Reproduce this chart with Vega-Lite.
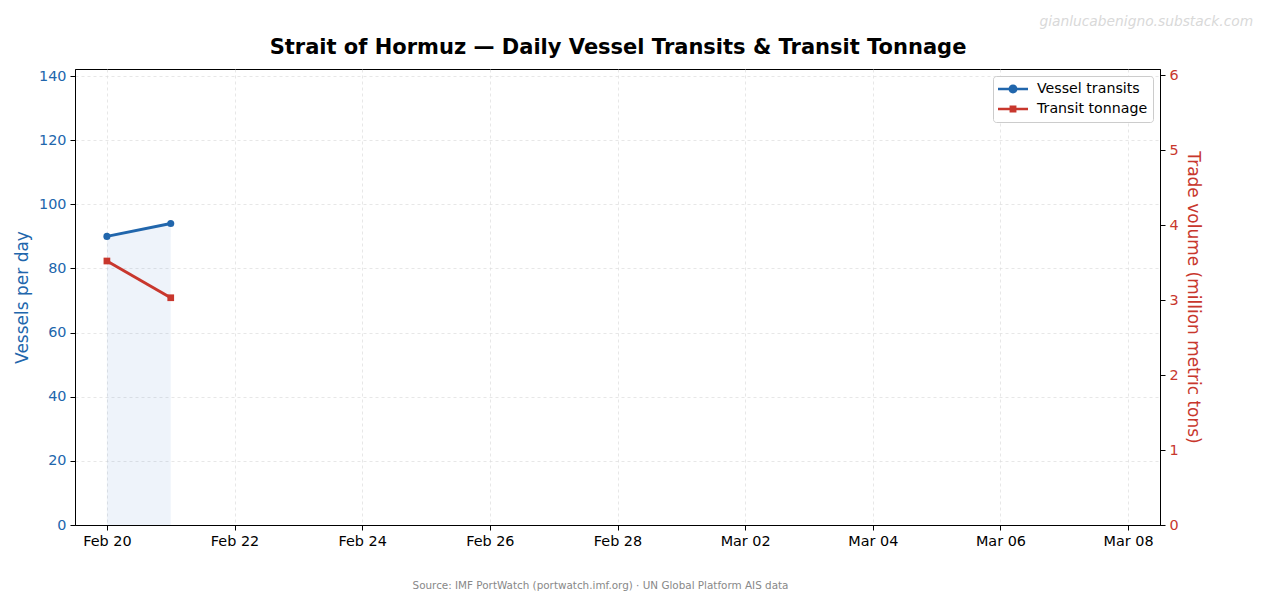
{
  "$schema": "https://vega.github.io/schema/vega-lite/v6.json",
  "width": 1085,
  "height": 456,
  "autosize": {"type": "none"},
  "padding": {"left": 75, "top": 69, "right": 112, "bottom": 81},
  "background": "white",
  "config": {
    "font": "DejaVu Sans",
    "view": {"stroke": "black", "strokeWidth": 1},
    "axis": {
      "labelFontSize": 14.4,
      "labelFont": "DejaVu Sans",
      "titleFont": "DejaVu Sans",
      "titleFontWeight": "normal",
      "tickColor": "black",
      "tickSize": 5,
      "labelPadding": 4,
      "domainColor": "black",
      "gridColor": "#dddddd",
      "gridDash": [3, 3],
      "gridWidth": 0.7
    }
  },
  "title": {
    "text": "gianlucabenigno.substack.com",
    "anchor": "end",
    "fontSize": 13.8,
    "fontStyle": "italic",
    "fontWeight": "normal",
    "color": "#d9d9d9",
    "offset": 7,
    "dx": 52
  },
  "data": {
    "values": [
      {"date": "2026-02-20", "transits": 90, "tonnage": 3.52},
      {"date": "2026-02-21", "transits": 94, "tonnage": 3.03}
    ]
  },
  "layer": [
    {
      "layer": [
        {
          "mark": {"type": "area", "color": "#3d78c4", "opacity": 0.09},
          "encoding": {
            "x": {
              "field": "date",
              "type": "temporal",
              "scale": {
                "type": "utc",
                "domain": [
                  {"year": 2026, "month": "feb", "date": 19, "hours": 12, "utc": true},
                  {"year": 2026, "month": "mar", "date": 8, "hours": 12, "utc": true}
                ]
              },
              "axis": {
                "orient": "bottom",
                "format": "%b %d",
                "labelColor": "black",
                "grid": true,
                "values": [
                  {"year": 2026, "month": "feb", "date": 20, "utc": true},
                  {"year": 2026, "month": "feb", "date": 22, "utc": true},
                  {"year": 2026, "month": "feb", "date": 24, "utc": true},
                  {"year": 2026, "month": "feb", "date": 26, "utc": true},
                  {"year": 2026, "month": "feb", "date": 28, "utc": true},
                  {"year": 2026, "month": "mar", "date": 2, "utc": true},
                  {"year": 2026, "month": "mar", "date": 4, "utc": true},
                  {"year": 2026, "month": "mar", "date": 6, "utc": true},
                  {"year": 2026, "month": "mar", "date": 8, "utc": true}
                ],
                "title": "Source: IMF PortWatch (portwatch.imf.org) · UN Global Platform AIS data",
                "titleFontSize": 10.4,
                "titleColor": "#888888",
                "titlePadding": 33,
                "titleX": 525,
                "titleAlign": "center"
              }
            },
            "y": {
              "field": "transits",
              "type": "quantitative",
              "scale": {"domain": [0, 142.2], "nice": false},
              "axis": {
                "orient": "left",
                "values": [0, 20, 40, 60, 80, 100, 120, 140],
                "grid": true,
                "labelColor": "#2166ac",
                "title": "Vessels per day",
                "titleColor": "#2166ac",
                "titleFontSize": 17,
                "titlePadding": 7
              }
            }
          }
        },
        {
          "mark": {"type": "line", "color": "#2166ac", "strokeWidth": 3, "point": {"shape": "circle", "size": 50, "filled": true, "color": "#2166ac", "opacity": 1}},
          "encoding": {
            "x": {
              "field": "date",
              "type": "temporal",
              "axis": {
                "orient": "top",
                "labels": false,
                "ticks": false,
                "domain": false,
                "grid": false,
                "title": "Strait of Hormuz — Daily Vessel Transits & Transit Tonnage",
                "titleFontSize": 21,
                "titleFontWeight": "bold",
                "titleColor": "black",
                "titlePadding": 12
              }
            },
            "y": {"field": "transits", "type": "quantitative"},
            "color": {
              "datum": "Vessel transits",
              "type": "nominal",
              "scale": {"domain": ["Vessel transits", "Transit tonnage"], "range": ["#2166ac", "#c8372d"]},
              "legend": {
                "title": null,
                "orient": "top-right",
                "offset": 7,
                "padding": 5,
                "fillColor": "white",
                "strokeColor": "#cccccc",
                "cornerRadius": 3,
                "labelFontSize": 14.2,
                "labelColor": "black",
                "symbolSize": 256,
                "rowPadding": 4,
                "labelOffset": 23,
                "encode": {
                  "symbols": {
                    "update": {
                      "shape": {"signal": "datum.value === 'Vessel transits' ? 'M-1,-0.17H2.75V0.17H-1Z M0.875,-0.56A0.56,0.56 0 1,1 0.875,0.56A0.56,0.56 0 1,1 0.875,-0.56Z' : 'M-1,-0.17H2.75V0.17H-1Z M0.445,-0.43H1.305V0.43H0.445Z'"},
                      "fill": {"signal": "datum.value === 'Vessel transits' ? '#2166ac' : '#c8372d'"},
                      "stroke": {"value": "transparent"},
                      "strokeWidth": {"value": 0},
                      "opacity": {"value": 1}
                    }
                  }
                }
              }
            }
          }
        }
      ]
    },
    {
      "mark": {"type": "line", "color": "#c8372d", "strokeWidth": 3, "point": {"shape": "square", "size": 45, "filled": true, "color": "#c8372d", "opacity": 1}},
      "encoding": {
        "x": {"field": "date", "type": "temporal", "axis": null},
        "y": {
          "field": "tonnage",
          "type": "quantitative",
          "scale": {"domain": [0, 6.08], "nice": false},
          "axis": {
            "orient": "right",
            "values": [0, 1, 2, 3, 4, 5, 6],
            "grid": false,
            "labelColor": "#c8372d",
            "title": "Trade volume (million metric tons)",
            "titleColor": "#c8372d",
            "titleFontSize": 17,
            "titlePadding": 5
          }
        },
        "color": {"datum": "Transit tonnage", "type": "nominal"}
      }
    }
  ],
  "resolve": {"scale": {"y": "independent"}, "axis": {"x": "independent"}}
}
